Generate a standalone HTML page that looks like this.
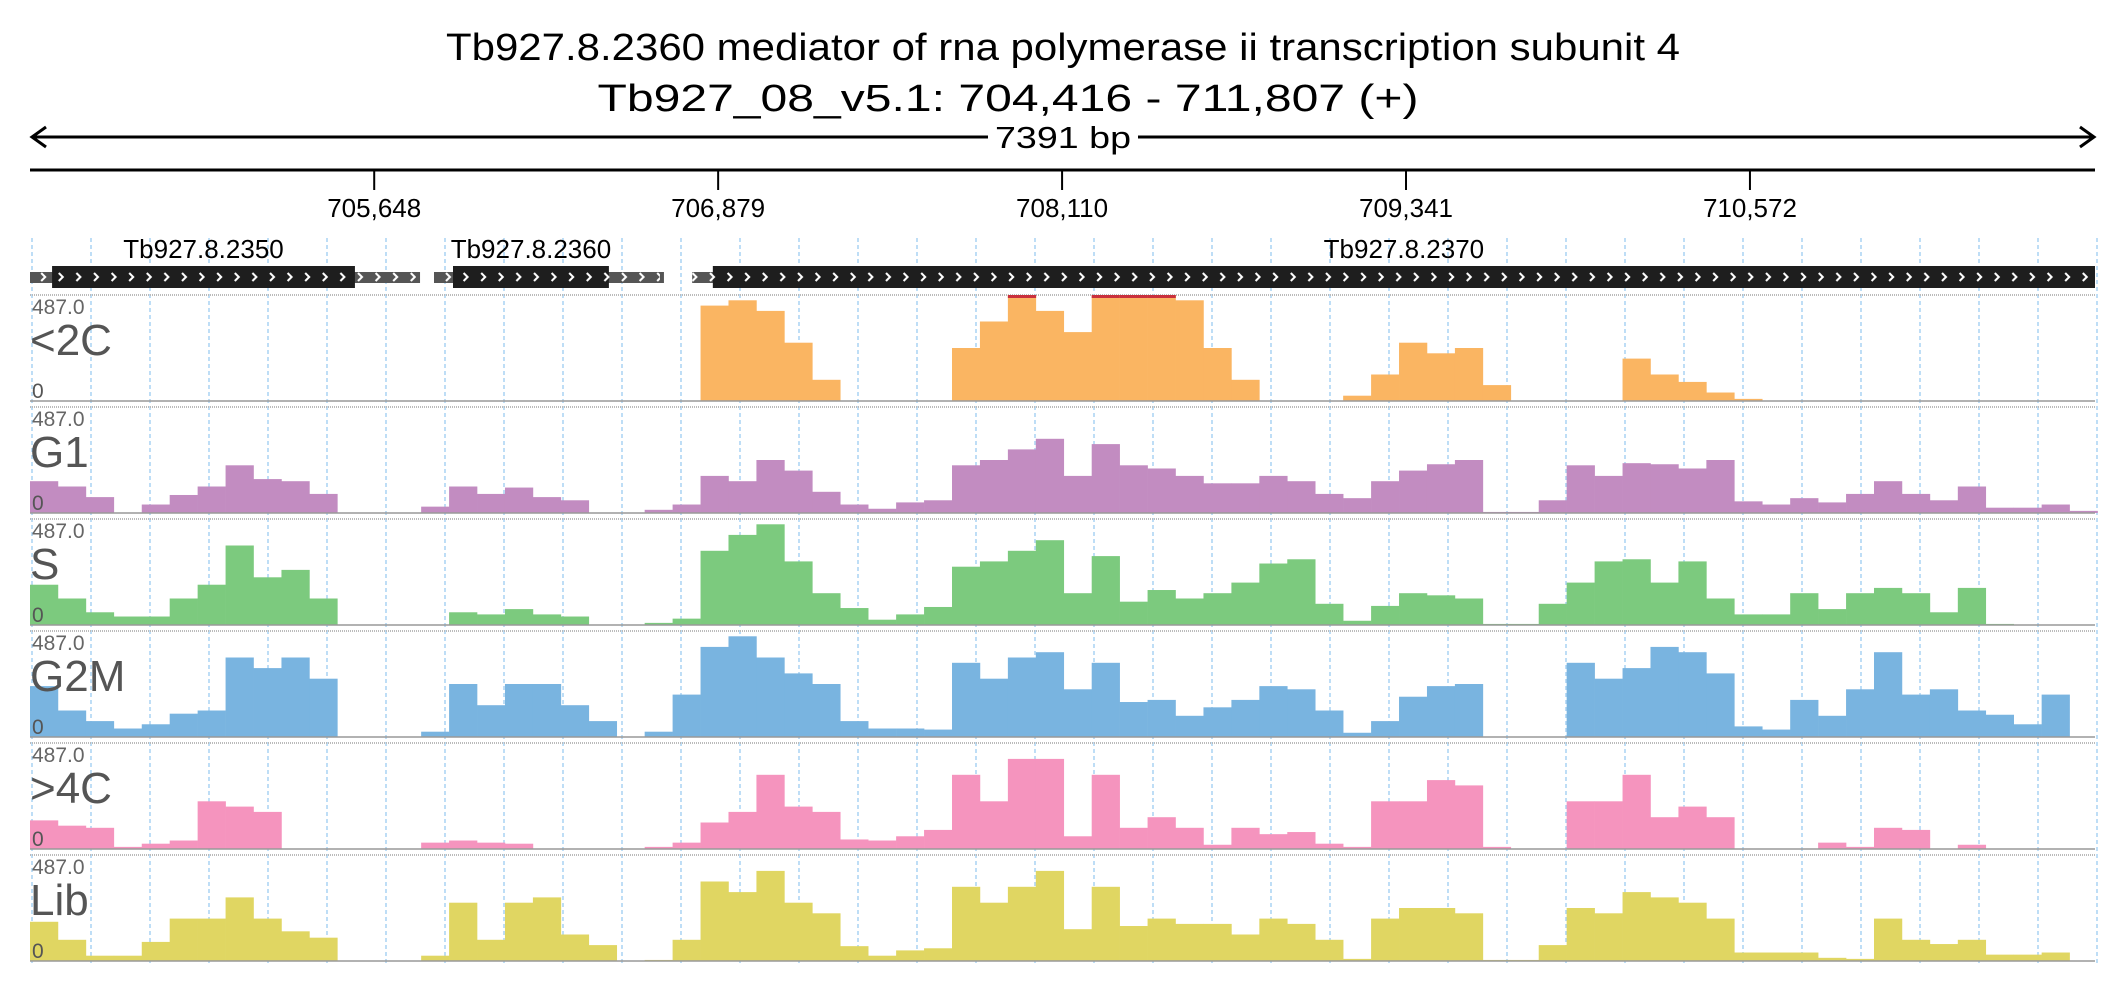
<!DOCTYPE html>
<html><head><meta charset="utf-8"><style>
html,body{margin:0;padding:0;background:#fff;}
svg{display:block;font-family:"Liberation Sans",sans-serif;}
</style></head><body>
<svg id="chart" width="2126" height="1000" viewBox="0 0 2126 1000" xmlns="http://www.w3.org/2000/svg">
<defs>
<pattern id="chev" x="0" y="266" width="17.6" height="22" patternUnits="userSpaceOnUse">
<polyline points="6,7 10,11 6,15" fill="none" stroke="#fff" stroke-width="2"/>
</pattern>
</defs>
<text x="1063" y="60" text-anchor="middle" font-size="38" textLength="1234" lengthAdjust="spacingAndGlyphs" fill="#000">Tb927.8.2360  mediator of rna polymerase ii transcription subunit 4</text>
<text x="1008" y="111" text-anchor="middle" font-size="38" textLength="821" lengthAdjust="spacingAndGlyphs" fill="#000">Tb927_08_v5.1: 704,416 - 711,807 (+)</text>
<g stroke="#000" stroke-width="3" fill="none">
<line x1="32" y1="137" x2="988" y2="137"/>
<line x1="1138" y1="137" x2="2094" y2="137"/>
<polyline points="46,127 32,137 46,147"/>
<polyline points="2080,127 2094,137 2080,147"/>
</g>
<text x="1063" y="148" text-anchor="middle" font-size="31" textLength="136" lengthAdjust="spacingAndGlyphs">7391 bp</text>
<g id="axis"></g>
<g id="grid"></g>
<g id="genes"></g>
<g id="tracks"></g>
</svg>
<script>
const startBp = 704416, endBp = 711807;
const tickLabels = [705648, 706879, 708110, 709341, 710572];
const trackNames = ["<2C", "G1", "S", "G2M", ">4C", "Lib"];
const trackMax = "487.0";
const binSize = 100;
const cov2C = [0,0,0,0,0,0,0,0,0,0,0,0,0,0,0,0,0,0,0,0,0,0,0,0,90,95,85,55,20,0,0,0,0,50,75,100,85,65,100,100,100,95,50,20,0,0,0,5,25,55,45,50,15,0,0,0,0,40,25,18,8,2,0,0,0,0,0,0,0,0,0,0,0,0];
const covG1 = [30,25,15,0,8,17,25,45,32,30,18,0,0,0,6,25,18,24,15,12,0,0,3,8,35,30,50,40,20,8,4,10,12,45,50,60,70,35,65,45,42,35,28,28,35,30,18,14,30,40,46,50,1,1,12,45,35,47,46,42,50,11,8,14,10,18,30,18,12,25,5,5,8,2];
const covS = [38,25,12,8,8,25,38,75,45,52,25,0,0,0,0,12,10,15,10,8,0,0,2,6,70,85,95,60,30,16,5,10,17,55,60,70,80,30,65,22,33,25,30,40,58,62,20,4,18,30,28,25,1,1,20,40,60,62,40,60,25,10,10,30,15,30,35,30,12,35,1,0,0,0];
const covG2M = [48,25,15,8,12,22,25,75,65,75,55,0,0,0,5,50,30,50,50,30,15,0,5,40,85,95,75,60,50,15,8,8,7,70,55,75,80,45,70,33,35,20,28,35,48,45,25,4,15,38,48,50,0,0,0,70,55,65,85,80,60,10,7,35,20,45,80,40,45,25,21,12,40,0];
const cov4C = [27,22,20,2,5,8,45,40,35,0,0,0,0,0,6,8,6,5,0,0,0,0,2,6,25,35,70,40,35,9,8,12,18,70,45,85,85,12,70,20,30,20,4,20,14,16,5,2,45,45,65,60,2,0,0,45,45,70,30,40,30,0,0,0,6,2,20,18,0,4,0,0,0,0];
const covLib = [37,20,5,5,18,40,40,60,40,28,22,0,0,0,5,55,20,55,60,25,15,0,1,20,75,65,85,55,45,14,5,10,12,70,55,70,85,30,70,33,40,35,35,25,40,35,20,2,40,50,50,45,1,1,15,50,45,65,60,55,40,8,8,8,3,2,40,20,16,20,6,6,8,0];
const trackData = [cov2C, covG1, covS, covG2M, cov4C, covLib];
const trackColors = ["#fab562", "#c28cc1", "#7cca7e", "#79b4e0", "#f594be", "#e0d662"];
const genes = [
  {name:"Tb927.8.2350", utrStart:704416, start:704495, end:705579, utrEnd:705812},
  {name:"Tb927.8.2360", utrStart:705862, start:705930, end:706488, utrEnd:706685},
  {name:"Tb927.8.2370", utrStart:706786, start:706860, end:711807, utrEnd:711807}
];

const NS = "http://www.w3.org/2000/svg";
const X0 = 30, X1 = 2095;
function xScale(bp){ return X0 + (bp - startBp) / (endBp - startBp) * (X1 - X0); }
function mk(tag, attrs, parent){
  const e = document.createElementNS(NS, tag);
  for (const k in attrs) e.setAttribute(k, attrs[k]);
  parent.appendChild(e); return e;
}
const axis = document.getElementById("axis");
let l = mk("line", {x1:X0, y1:170, x2:X1, y2:170, stroke:"#000", "stroke-width":3}, axis);


tickLabels.forEach(t => {
  const x = xScale(t);
  const tk = mk("line", {x1:x, y1:170, x2:x, y2:190, stroke:"#000", "stroke-width":2}, axis);
  
  
  const tx = mk("text", {x:x, y:217, "text-anchor":"middle", "font-size":26}, axis);
  tx.textContent = t.toLocaleString("en-US");
  
  
});
const grid = document.getElementById("grid");
for (let k = 0; k <= 35; k++){
  const x = 32 + k * 59.0;
  const g = mk("line", {x1:x, y1:238, x2:x, y2:965, stroke:"#9ccbf0", "stroke-width":1.3, "stroke-dasharray":"4,3"}, grid);
  
  
}
const gg = document.getElementById("genes");
genes.forEach(g => {
  const grp = mk("g", {}, gg);
  
  
  const ux0 = xScale(g.utrStart), ux1 = xScale(g.utrEnd), cx0 = xScale(g.start), cx1 = xScale(g.end);
  const u = mk("rect", {x:ux0, y:272, width:ux1-ux0, height:11, fill:"#555"}, grp);
  
  
  const c = mk("rect", {x:cx0, y:266, width:cx1-cx0, height:22, fill:"#1e1e1e"}, grp);
  
  
  const ch = mk("rect", {x:ux0, y:266, width:ux1-ux0-4, height:22, fill:"url(#chev)"}, grp);
  
  
  const lb = mk("text", {x:(cx0+cx1)/2, y:258, "text-anchor":"middle", "font-size":26}, grp);
  lb.textContent = g.name;
  
  
});
const tg = document.getElementById("tracks");
const TOP0 = 295, STEP = 112, H = 106;
trackData.forEach((arr, i) => {
  const top = TOP0 + i * STEP, bot = top + H;
  const grp = mk("g", {}, tg);
  
  
  const tl = mk("line", {x1:X0, y1:top, x2:X1, y2:top, stroke:"#bbb", "stroke-width":2, "stroke-dasharray":"1,1"}, grp);
  
  
  const bw = binSize / (endBp - startBp) * (X1 - X0);
  arr.forEach((v, k) => {
    if (v <= 0) return;
    const x = xScale(startBp + k * binSize);
    const h = Math.min(v, 100) / 100 * H;
    const r = mk("rect", {x:x, y:bot-h, width:bw+0.3, height:h, fill:trackColors[i]}, grp);
    
    
    if (v >= 100){
      const cap = mk("rect", {x:x, y:top, width:bw+0.3, height:3, fill:"#c9303c"}, grp);
      
      
    }
  });
  const bl = mk("line", {x1:X0, y1:bot, x2:X1, y2:bot, stroke:"#999", "stroke-width":1.5}, grp);
  
  
  const mx = mk("text", {x:32, y:top+19, "font-size":21, fill:"#666"}, grp);
  mx.textContent = trackMax;
  
  
  const nm = mk("text", {x:30, y:top+60, "font-size":44, fill:"#555"}, grp);
  nm.textContent = trackNames[i];
  
  
  const z = mk("text", {x:32, y:bot-3, "font-size":21, fill:"#555"}, grp);
  z.textContent = "0";
  
  
});
</script>
</body></html>
